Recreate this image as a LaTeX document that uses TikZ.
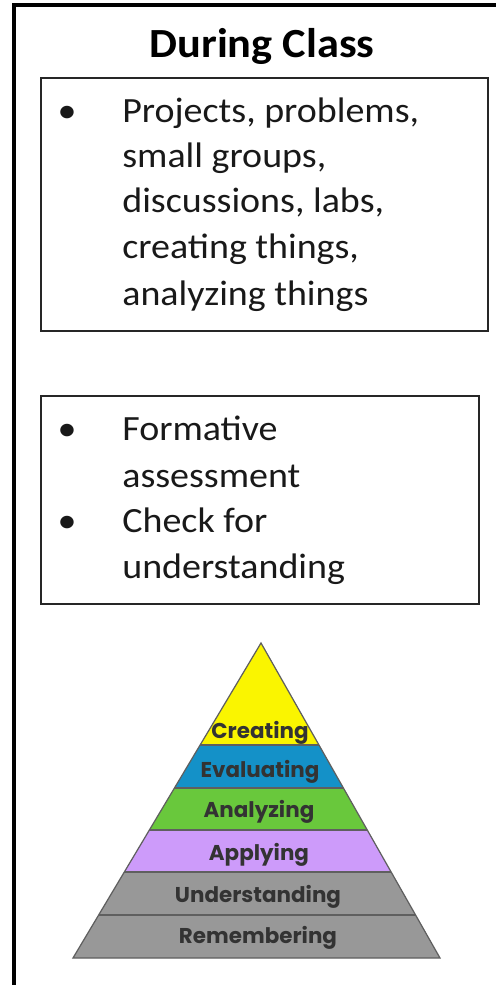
\documentclass[tikz,border=0pt]{standalone}
\usepackage{fontspec}
\setmainfont{Carlito}[FakeStretch=1.07]
\newfontfamily\pyrfont{Poppins}
\definecolor{creatingyellow}{RGB}{250,245,0}
\definecolor{evaluatingblue}{RGB}{20,145,200}
\definecolor{analyzinggreen}{RGB}{105,200,60}
\definecolor{applyingpurple}{RGB}{205,155,250}
\definecolor{basegray}{RGB}{152,152,152}
\definecolor{edgegray}{RGB}{95,95,95}
\tikzset{
  boxline/.style={line width=1.1pt, draw=black!85},
  bandline/.style={line width=0.7pt, draw=edgegray},
  bodytext/.style={font=\fontsize{20.2}{24}\selectfont, text=black!90, inner sep=0pt},
  bandtext/.style={font=\pyrfont\bfseries\fontsize{12.2}{14}\selectfont, text=black!80, inner sep=0pt}
}
\begin{document}
\begin{tikzpicture}[x=0.02cm,y=-0.02cm]
	\useasboundingbox (0,0) rectangle (496,985);
	\draw [line width=2.2pt] (14,985) -- (14,5) -- (496,5);
	\node (title) [anchor=base, inner sep=0pt] at (262,57) {\fontsize{23.6}{27}\selectfont\bfseries During Class};
	% first box
	\draw [boxline] (41,78) rectangle (488,331);
	\node (bulA) [bodytext, anchor=base] at (67,122) {\textbullet};
	\node (lineA1) [bodytext, anchor=base west] at (122,122) {Projects, problems,};
	\node (lineA2) [bodytext, anchor=base west] at (122,167) {small groups,};
	\node (lineA3) [bodytext, anchor=base west] at (122,212) {discussions, labs,};
	\node (lineA4) [bodytext, anchor=base west] at (122,258) {creating things,};
	\node (lineA5) [bodytext, anchor=base west] at (122,305) {analyzing things};
	% second box
	\draw [boxline] (41,396) rectangle (479,604);
	\node (bulB) [bodytext, anchor=base] at (67,440) {\textbullet};
	\node (lineB1) [bodytext, anchor=base west] at (122,440) {Formative};
	\node (lineB2) [bodytext, anchor=base west] at (122,487) {assessment};
	\node (bulC) [bodytext, anchor=base] at (67,532) {\textbullet};
	\node (lineB3) [bodytext, anchor=base west] at (122,532) {Check for};
	\node (lineB4) [bodytext, anchor=base west] at (122,578) {understanding};
	% pyramid
	\begin{scope}
		\clip (261,643) -- (440,958) -- (73,958) -- cycle;
		\fill [creatingyellow] (60,640) rectangle (450,745);
		\fill [evaluatingblue] (60,745) rectangle (450,788);
		\fill [analyzinggreen] (60,788) rectangle (450,830);
		\fill [applyingpurple] (60,830) rectangle (450,872);
		\fill [basegray] (60,872) rectangle (450,960);
		\draw [bandline] (60,745) -- (450,745);
		\draw [bandline] (60,788) -- (450,788);
		\draw [bandline] (60,830) -- (450,830);
		\draw [bandline] (60,872) -- (450,872);
		\draw [bandline] (60,915) -- (450,915);
	\end{scope}
	\draw [bandline] (261,643) -- (440,958) -- (73,958) -- cycle;
	\node (creating) [bandtext] at (260,733) {Creating};
	\node (evaluating) [bandtext] at (260,772) {Evaluating};
	\node (analyzing) [bandtext] at (259,812) {Analyzing};
	\node (applying) [bandtext] at (259,855) {Applying};
	\node (understanding) [bandtext] at (258,897) {Understanding};
	\node (remembering) [bandtext] at (258,938) {Remembering};
\end{tikzpicture}
\end{document}
